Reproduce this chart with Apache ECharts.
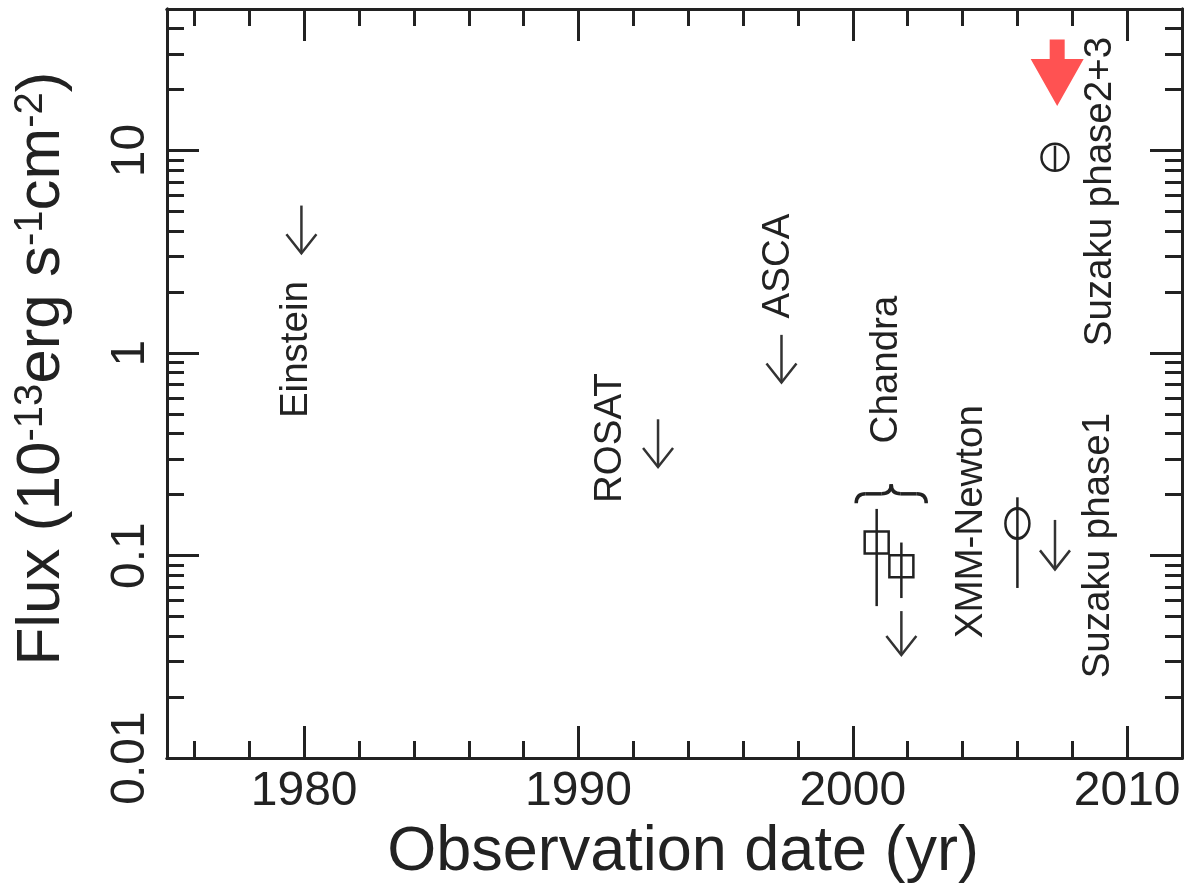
<!DOCTYPE html>
<html><head><meta charset="utf-8">
<script src="https://cdn.jsdelivr.net/npm/echarts@6/dist/echarts.min.js"></script>
<style>html,body{margin:0;padding:0;background:#fff}#c{width:1187px;height:889px}</style>
</head><body><div id="c"></div>
<script>
// ---- axis ticks ----
const xMajorTicks = [1980, 1990, 2000, 2010];
const xMinorTicks = [1976, 1978, 1982, 1984, 1986, 1988, 1992, 1994, 1996, 1998, 2002, 2004, 2006, 2008];
const yMajorTicks = [0.01, 0.1, 1, 10];
const yMinorTicks = [0.02, 0.03, 0.04, 0.05, 0.06, 0.07, 0.08, 0.09,
                     0.2, 0.3, 0.4, 0.5, 0.6, 0.7, 0.8, 0.9,
                     2, 3, 4, 5, 6, 7, 8, 9, 20, 30, 40];

// ---- upper limits (arrow from limit value down) ----
const limitNames = ['Einstein', 'ROSAT', 'ASCA', 'Chandra', 'Suzaku phase1'];
const limitYears = [1979.9, 1992.9, 1997.4, 2001.77, 2007.37];
const limitTop   = [5.35, 0.471, 1.23, 0.0532, 0.150];
const limitTip   = [3.11, 0.274, 0.716, 0.0323, 0.0855];

// ---- detections with error bars ----
const detNames = ['Chandra', 'Chandra', 'XMM-Newton', 'Suzaku phase2+3'];
const detYears = [2000.87, 2001.77, 2006.0, 2007.37];
const detFlux  = [0.116, 0.0885, 0.144, 9.27];
const detLow   = [0.0563, 0.0617, 0.0692, 7.97];
const detHigh  = [0.170, 0.116, 0.194, 10.57];

// ---- highlighted (red) arrow ----
const redArrowYear = [2007.45];
const redArrowTop  = [35.3];
const redArrowTip  = [16.6];

// ---- annotation labels ----
const labelTexts = ['Einstein', 'ROSAT', 'ASCA', 'Chandra', 'XMM-Newton', 'Suzaku phase1', 'Suzaku phase2+3'];
const labelYears = [1979.71, 1991.15, 1997.27, 2001.24, 2004.34, 2008.96, 2009.03];
const labelFlux  = [1.04, 0.38, 2.69, 0.829, 0.147, 0.112, 6.27];

// ---- brace grouping the Chandra points ----
const braceYear = [2001.4];
const braceFlux = [0.2018];

// ================= styling / option =================
const FONT = 'Liberation Sans, Arial, Helvetica, sans-serif';
const INK = '#222';
const markerStyle = {
  'Chandra': {kind: 'rect', w: 24, h: 22},
  'XMM-Newton': {kind: 'ellipse', r: 12, sy: 1.25},
  'Suzaku phase2+3': {kind: 'ellipse', r: 13.5, sy: 1.0}
};

function xAxisDef(pos, ticks, len, labels) {
  return {
    type: 'value', position: pos, min: 1975, max: 2012,
    axisLine: {show: true, onZero: false, lineStyle: {color: INK, width: 3}},
    axisTick: {show: true, inside: true, length: len, customValues: ticks, lineStyle: {color: INK, width: 3}},
    axisLabel: {show: labels, customValues: ticks, fontSize: 48, color: INK, fontFamily: FONT, margin: 10,
      formatter: v => String(v)},
    splitLine: {show: false}
  };
}
function yAxisDef(pos, ticks, len, labels) {
  return {
    type: 'log', logBase: 10, position: pos, min: 0.01, max: 50,
    axisLine: {show: true, onZero: false, lineStyle: {color: INK, width: 3}},
    axisTick: {show: true, inside: true, length: len, customValues: ticks, lineStyle: {color: INK, width: 3}},
    axisLabel: {show: labels, customValues: ticks, rotate: 90, fontSize: 48, color: INK, fontFamily: FONT, margin: 12,
      formatter: v => String(v)},
    splitLine: {show: false}, minorTick: {show: false}
  };
}

const xAxes = [
  Object.assign(xAxisDef('bottom', xMajorTicks, 32, true), {
    name: 'Observation date (yr)', nameLocation: 'middle', nameGap: 60,
    nameTextStyle: {fontSize: 63, color: INK, fontFamily: FONT, padding: [0, 0, 0, 17]}
  }),
  xAxisDef('bottom', xMinorTicks, 17, false),
  xAxisDef('top', xMajorTicks, 32, false),
  xAxisDef('top', xMinorTicks, 17, false)
];
const yAxes = [
  Object.assign(yAxisDef('left', yMajorTicks, 32, true), {
    name: 'Flux (10{s|-13}erg s{s|-1}cm{s|-2})', nameLocation: 'middle', nameGap: 94, nameRotate: 90,
    nameTextStyle: {fontSize: 62, color: INK, fontFamily: FONT, padding: [0, 0, 0, 30],
      rich: {s: {fontSize: 40, color: INK, fontFamily: FONT, verticalAlign: 'top'}}}
  }),
  yAxisDef('left', yMinorTicks, 17, false),
  yAxisDef('right', yMajorTicks, 32, false),
  yAxisDef('right', yMinorTicks, 17, false)
];

const arrowData = limitYears.map((y, i) => [y, limitTop[i], limitTip[i]]);
const detData = detYears.map((y, i) => [y, detFlux[i], detLow[i], detHigh[i], i]);
const redData = redArrowYear.map((y, i) => [y, redArrowTop[i], redArrowTip[i]]);
const labelData = labelYears.map((y, i) => [y, labelFlux[i], i]);
const braceData = braceYear.map((y, i) => [y, braceFlux[i]]);

function renderLimit(params, api) {
  const top = api.coord([api.value(0), api.value(1)]);
  const tip = api.coord([api.value(0), api.value(2)]);
  const hw = 15, hh = 19;
  const st = {stroke: '#333', lineWidth: 2.5, fill: 'none'};
  return {type: 'group', children: [
    {type: 'line', shape: {x1: top[0], y1: top[1], x2: tip[0], y2: tip[1]}, style: st},
    {type: 'polyline', shape: {points: [[tip[0] - hw, tip[1] - hh], [tip[0], tip[1]], [tip[0] + hw, tip[1] - hh]]}, style: st}
  ]};
}
function renderDet(params, api) {
  const c = api.coord([api.value(0), api.value(1)]);
  const lo = api.coord([api.value(0), api.value(2)]);
  const hi = api.coord([api.value(0), api.value(3)]);
  const ms = markerStyle[detNames[api.value(4)]];
  const st = {stroke: INK, lineWidth: 2.5, fill: 'none'};
  const children = [{type: 'line', shape: {x1: lo[0], y1: lo[1], x2: hi[0], y2: hi[1]}, style: st}];
  if (ms.kind === 'rect') {
    children.push({type: 'rect', shape: {x: c[0] - ms.w / 2, y: c[1] - ms.h / 2, width: ms.w, height: ms.h}, style: st});
  } else {
    children.push({type: 'circle', x: c[0], y: c[1], scaleY: ms.sy, shape: {cx: 0, cy: 0, r: ms.r},
      style: Object.assign({strokeNoScale: true}, st)});
  }
  return {type: 'group', children};
}
function renderRed(params, api) {
  const top = api.coord([api.value(0), api.value(1)]);
  const tip = api.coord([api.value(0), api.value(2)]);
  const sw = 7.5, hw = 26.5, hl = 47;
  const x = tip[0];
  return {type: 'polygon', shape: {points: [
    [x - sw, top[1]], [x + sw, top[1]], [x + sw, tip[1] - hl], [x + hw, tip[1] - hl],
    [x, tip[1]], [x - hw, tip[1] - hl], [x - sw, tip[1] - hl]]},
    style: {fill: '#ff5252', stroke: 'none'}};
}
function renderLabel(params, api) {
  const p = api.coord([api.value(0), api.value(1)]);
  return {type: 'text', x: p[0], y: p[1], rotation: Math.PI / 2,
    style: {text: labelTexts[api.value(2)], fontSize: 38.5, fontFamily: FONT, fill: INK,
      align: 'center', verticalAlign: 'middle', textAlign: 'center', textVerticalAlign: 'middle'}};
}
function renderBrace(params, api) {
  const c = api.coord([api.value(0), api.value(1)]);
  const w = 35, h = 9.5, cx = c[0], cy = c[1];
  const st = {stroke: INK, lineWidth: 3.5, fill: 'none'};
  return {type: 'group', children: [
    {type: 'bezierCurve', shape: {x1: cx - w, y1: cy + h, cpx1: cx - w, cpy1: cy, x2: cx - w + h, y2: cy}, style: st},
    {type: 'line', shape: {x1: cx - w + h, y1: cy, x2: cx - h, y2: cy}, style: st},
    {type: 'bezierCurve', shape: {x1: cx - h, y1: cy, cpx1: cx, cpy1: cy, x2: cx, y2: cy - h}, style: st},
    {type: 'bezierCurve', shape: {x1: cx, y1: cy - h, cpx1: cx, cpy1: cy, x2: cx + h, y2: cy}, style: st},
    {type: 'line', shape: {x1: cx + h, y1: cy, x2: cx + w - h, y2: cy}, style: st},
    {type: 'bezierCurve', shape: {x1: cx + w - h, y1: cy, cpx1: cx + w, cpy1: cy, x2: cx + w, y2: cy + h}, style: st}
  ]};
}

function customSeries(data, fn) {
  return {type: 'custom', coordinateSystem: 'cartesian2d', xAxisIndex: 0, yAxisIndex: 0,
    data, renderItem: fn, silent: true, clip: false, animation: false,
    encode: {x: 0, y: 1}};
}

const chart = echarts.init(document.getElementById('c'), null, {renderer: 'canvas'});
chart.setOption({
  backgroundColor: '#fff',
  animation: false,
  grid: {left: 167, right: 5, top: 9, bottom: 126, containLabel: false},
  xAxis: xAxes,
  yAxis: yAxes,
  series: [
    customSeries(arrowData, renderLimit),
    customSeries(detData, renderDet),
    customSeries(redData, renderRed),
    customSeries(labelData, renderLabel),
    customSeries(braceData, renderBrace)
  ]
});
</script></body></html>
